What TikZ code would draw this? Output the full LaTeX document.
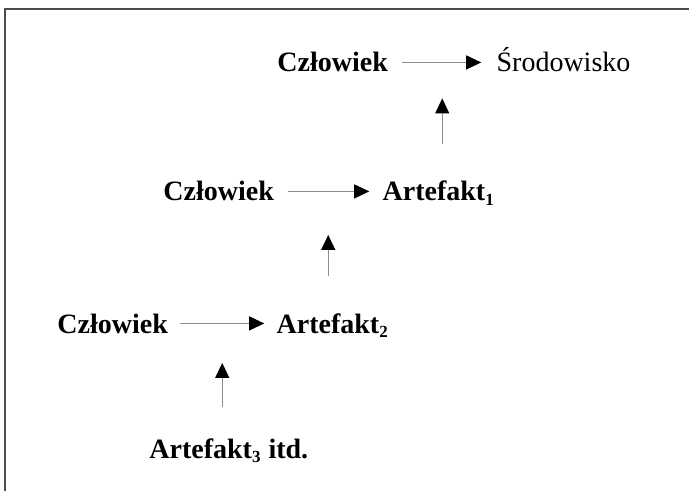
\documentclass[tikz,border=0pt]{standalone}
\usepackage{fontspec}
\setmainfont{Liberation Serif}
\usepackage{tikz}
\usetikzlibrary{arrows.meta,positioning}
\newcommand{\idx}[1]{\textsubscript{\fontsize{8.5}{9}\selectfont #1}}

\begin{document}
\begin{tikzpicture}[
  x=0.5pt, y=-0.5pt,
  word/.style={anchor=base west, inner sep=0pt,
               font=\fontsize{14}{17}\selectfont\bfseries},
  plain/.style={font=\fontsize{14}{17}\selectfont\mdseries},
  arr/.style={-{Triangle[length=7.5pt,width=7pt,black]},
              draw=black!45, line width=0.5pt},
  frame/.style={draw=black!70, line width=0.8pt},
  node distance=54pt
]
  \useasboundingbox (0,0) rectangle (689,491);
  % Frame (top and left only)
  \draw[frame] (689,9) -- (5,9) -- (5,491);

  % Nodes
  \node[word] (c1) at (277,72) {Człowiek};
  \node[word, plain, base right=of c1] (s1) {Środowisko};
  \node[word] (c2) at (163,201) {Człowiek};
  \node[word, base right=of c2] (a1) {Artefakt\idx{1}};
  \node[word] (c3) at (57,333) {Człowiek};
  \node[word, base right=of c3] (a2) {Artefakt\idx{2}};
  \node[word] (a3) at (149,458) {Artefakt\idx{3} itd.};

  % Arrows
  \draw[arr, shorten <=7pt, shorten >=7.5pt] (c1.east)
    -- node[coordinate] (m1) {} (c1.east -| s1.west);
  \draw[arr, shorten <=7pt, shorten >=6.5pt] (c2.east)
    -- node[coordinate] (m2) {} (c2.east -| a1.west);
  \draw[arr, shorten <=6pt, shorten >=6pt] (c3.east)
    -- node[coordinate] (m3) {} (c3.east -| a2.west);

  % Upward arrows
  \draw[arr, shorten <=18.5pt, shorten >=18pt] (a1.north -| m1) -- (m1);
  \draw[arr, shorten <=18.5pt, shorten >=21.75pt] (a2.north -| m2) -- (m2);
  \draw[arr, shorten <=15.5pt, shorten >=19.75pt] (a3.north -| m3) -- (m3);
\end{tikzpicture}
\end{document}
